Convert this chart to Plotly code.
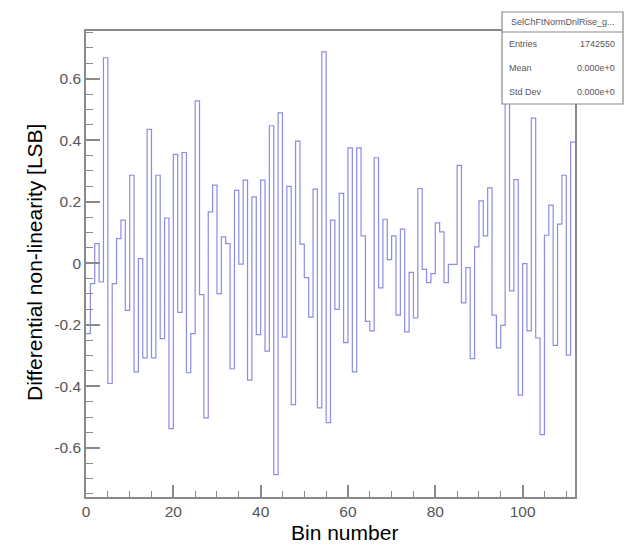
import plotly.graph_objects as go

# Per-bin differential non-linearity (LSB), bins 0..111
dnl = [
    -0.229, -0.066, 0.064, -0.061, 0.668, -0.391, -0.066, 0.080, 0.140, -0.153,
    0.286, -0.353, 0.015, -0.308, 0.435, -0.308, 0.286, -0.245, 0.147, -0.538,
    0.354, -0.160, 0.360, -0.356, -0.229, 0.528, -0.102, -0.503, 0.167, 0.254,
    -0.099, 0.086, 0.064, -0.343, 0.237, -0.003, 0.270, -0.380, 0.216, -0.232,
    0.270, -0.286, 0.447, -0.687, 0.489, -0.240, 0.250, -0.460, 0.397, 0.062,
    -0.047, -0.175, 0.241, -0.470, 0.687, -0.518, 0.140, -0.150, 0.227, -0.258,
    0.375, -0.353, 0.375, 0.089, -0.189, -0.220, 0.343, -0.080, 0.143, 0.012,
    0.089, -0.169, 0.111, -0.223, -0.030, -0.178, 0.243, -0.020, -0.063, -0.034,
    0.131, 0.102, -0.063, -0.004, -0.004, 0.318, -0.129, -0.014, -0.310, 0.053,
    0.203, 0.089, 0.245, -0.169, -0.275, -0.202, 0.560, -0.090, 0.272, -0.429,
    -0.001, -0.220, 0.472, -0.243, -0.557, 0.091, 0.189, -0.267, 0.127, 0.286,
    -0.299, 0.394,
]

x_title = "Bin number"
y_title = "Differential non-linearity [LSB]"
stats_title = "SelChFtNormDnlRise_g..."
stats_names = ["Entries", "Mean", "Std Dev"]
stats_values = ["1742550", "0.000e+0", "0.000e+0"]

W, H = 627, 545
ML, MR, MT, MB = 86, 52, 31, 48
PW, PH = W - ML - MR, H - MT - MB


def px(x):
    return (x - ML) / PW


def py(y):
    return 1 - (y - MT) / PH


# step outline: bin edges with the last value repeated for the closing edge
edges = list(range(len(dnl) + 1))
ys = dnl + [dnl[-1]]

fig = go.Figure()
fig.add_trace(go.Scatter(
    x=edges, y=ys, mode="lines", line_shape="hv",
    line=dict(color="rgb(140,140,228)", width=1.2),
    hoverinfo="skip", showlegend=False,
))

FONT = "Liberation Sans, Arial, sans-serif"
axis_common = dict(
    showgrid=False, zeroline=False, showline=True, mirror=True,
    linecolor="#8a8a8a", linewidth=1.5, automargin=False,
    ticks="inside", tickcolor="#8a8a8a", tickwidth=1.5,
    tickfont=dict(family=FONT, size=15.5, color="#555555"),
)

fig.update_layout(
    width=W, height=H,
    margin=dict(l=ML, r=MR, t=MT, b=MB),
    paper_bgcolor="white", plot_bgcolor="white",
    xaxis=dict(
        range=[0, 112], tickvals=[0, 20, 40, 60, 80, 100], ticklen=12,
        minor=dict(dtick=5, tick0=0, ticklen=6, ticks="inside",
                   tickcolor="#8a8a8a", tickwidth=1.2),
        **axis_common,
    ),
    yaxis=dict(
        range=[-0.76, 0.755], tickvals=[-0.6, -0.4, -0.2, 0, 0.2, 0.4, 0.6],
        ticktext=["-0.6", "-0.4", "-0.2", "0", "0.2", "0.4", "0.6"], ticklen=14,
        minor=dict(dtick=0.05, tick0=0, ticklen=7, ticks="inside",
                   tickcolor="#8a8a8a", tickwidth=1.2),
        **axis_common,
    ),
)

# axis titles
title_font = dict(family=FONT, size=21, color="black")
fig.add_annotation(xref="paper", yref="paper", x=px(344), y=py(532),
                   text=x_title, showarrow=False, font=title_font,
                   xanchor="center", yanchor="middle")
fig.add_annotation(xref="paper", yref="paper", x=px(34), y=py(263),
                   text=y_title, showarrow=False, font=title_font, textangle=-90,
                   xanchor="center", yanchor="middle")

# statistics box (opaque, drawn over the frame corner)
bx0, bx1, by0, by1, bsep = 502, 623, 12, 104, 32
fig.add_shape(type="rect", xref="paper", yref="paper",
              x0=px(bx0), x1=px(bx1), y0=py(by1), y1=py(by0),
              fillcolor="white", line=dict(color="#8a8a8a", width=1.2), layer="above")
fig.add_shape(type="line", xref="paper", yref="paper",
              x0=px(bx0), x1=px(bx1), y0=py(bsep), y1=py(bsep),
              line=dict(color="#8a8a8a", width=1.2), layer="above")

small = dict(family=FONT, size=9, color="#555555")
fig.add_annotation(xref="paper", yref="paper", x=px((bx0 + bx1) / 2), y=py((by0 + bsep) / 2),
                   text=stats_title, showarrow=False, font=small,
                   xanchor="center", yanchor="middle")
row_y = [44, 68, 92]
for name, val, yy in zip(stats_names, stats_values, row_y):
    fig.add_annotation(xref="paper", yref="paper", x=px(bx0 + 5), y=py(yy),
                       text=name, showarrow=False, font=small,
                       xanchor="left", yanchor="middle")
    fig.add_annotation(xref="paper", yref="paper", x=px(bx1 - 6), y=py(yy),
                       text=val, showarrow=False, font=small,
                       xanchor="right", yanchor="middle")

fig.write_html("out.html")
